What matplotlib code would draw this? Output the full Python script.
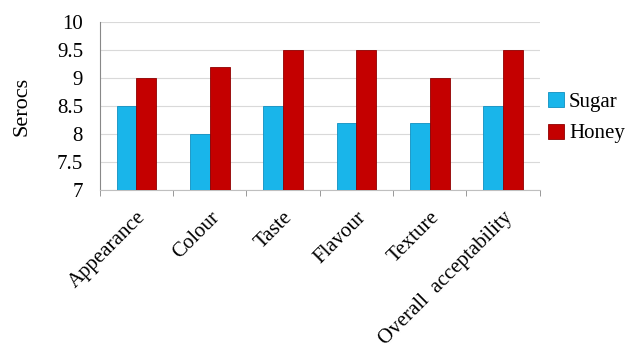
import numpy as np
import matplotlib
matplotlib.use("Agg")
import matplotlib.pyplot as plt

# =====================================================
# DATA
# =====================================================
categories = ["Appearance", "Colour", "Taste", "Flavour", "Texture",
              "Overall  acceptability"]
sugar = [8.5, 8.0, 8.5, 8.2, 8.2, 8.5]
honey = [9.0, 9.2, 9.5, 9.5, 9.0, 9.5]
y_ticks = [7, 7.5, 8, 8.5, 9, 9.5, 10]
y_tick_labels = ["7", "7.5", "8", "8.5", "9", "9.5", "10"]

# =====================================================
# PLOT
# =====================================================
plt.rcParams['font.family'] = ['Liberation Serif', 'DejaVu Serif']
fs = 15

fig = plt.figure(figsize=(6.35, 3.46), dpi=100)
ax = fig.add_axes([0.157, 0.451, 0.693, 0.485])

x = np.arange(len(categories))
w = 0.27
ax.bar(x - w / 2, sugar, w, color="#19b5ea", edgecolor="#0f8fc0",
       linewidth=0.6, label="Sugar", zorder=3)
ax.bar(x + w / 2, honey, w, color="#c40000", edgecolor="#8f0000",
       linewidth=0.6, label="Honey", zorder=3)

ax.set_xlim(-0.5, len(categories) - 0.5)
ax.set_ylim(7, 10)
ax.set_yticks(y_ticks)
ax.set_yticklabels(y_tick_labels, fontsize=fs)
ax.set_ylabel("Serocs", fontsize=fs + 1, labelpad=18)

# category labels at centres, tick marks at boundaries
ax.set_xticks(x)
ax.set_xticklabels(categories, rotation=45, ha="right", va="top",
                   rotation_mode="anchor", fontsize=fs)
ax.tick_params(axis="x", which="major", length=0, pad=13)
ax.set_xticks(np.arange(len(categories) + 1) - 0.5, minor=True)
ax.tick_params(axis="x", which="minor", length=4, color="#888888",
               direction="out")
ax.tick_params(axis="y", length=0, pad=12)

ax.grid(axis="y", color="#d9d9d9", linewidth=0.8, zorder=0)
for s in ["top", "right"]:
    ax.spines[s].set_visible(False)
ax.spines["left"].set_color("#888888")
ax.spines["bottom"].set_color("#bfbfbf")

ax.legend(loc="center left", bbox_to_anchor=(1.0, 0.43), frameon=False,
          fontsize=fs, handlelength=0.75, handleheight=0.75,
          handletextpad=0.25, labelspacing=0.55, borderaxespad=0.1,
          borderpad=0.3)

plt.savefig("out.png", dpi=100)
